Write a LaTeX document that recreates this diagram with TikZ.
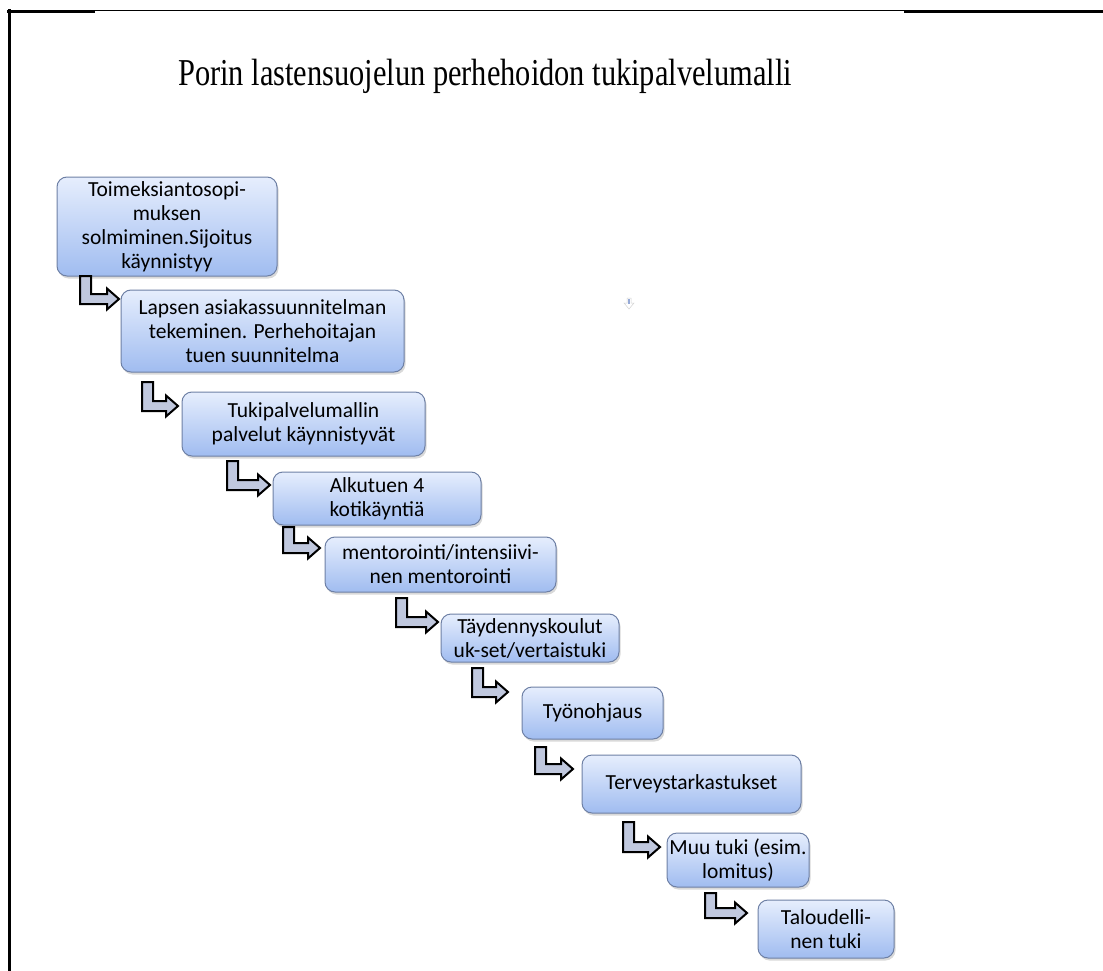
\documentclass[tikz,border=0pt]{standalone}
\usepackage{fontspec}
\setmainfont{Carlito}
\newfontfamily\titlefont{Liberation Serif}
\usetikzlibrary{shadows}
\definecolor{boxtop}{RGB}{230,238,253}
\definecolor{boxbot}{RGB}{160,188,240}
\definecolor{boxborder}{RGB}{110,128,165}
\definecolor{arrfill}{RGB}{192,200,222}
\newcommand\bentarrow[4]{%
  \draw[bentarr] (#1,#2) -- ({#1+11},#2) -- ({#1+11},{#3-5}) -- ({#4-12},{#3-5})
    -- ({#4-12},{#3-10.5}) -- (#4,#3) -- ({#4-12},{#3+10.5}) -- ({#4-12},{#3+5})
    -- (#1,{#3+5}) -- cycle;}
\begin{document}
\begin{tikzpicture}[x=1pt,y=-1pt,
  stepbox/.style={draw=boxborder, line width=1pt, rounded corners=10pt,
    top color=boxtop, bottom color=boxbot,
    drop shadow={opacity=0.3, shadow xshift=1.5pt, shadow yshift=-2.5pt},
    font=\fontsize{21.5}{24}\selectfont, align=center, inner sep=0pt},
  bentarr/.style={draw=black, line width=2pt, fill=arrfill, line join=miter},
  frame/.style={draw=black, line cap=rect}]
\useasboundingbox (0,0) rectangle (1103,971);
% frame
\draw[frame, line width=1pt] (8,11) -- (1103,11);
\draw[frame, line width=3pt] (8,11.5) -- (93,11.5);
\draw[frame, line width=3pt] (905,11.5) -- (1103,11.5);
\draw[frame, line width=3pt] (9.5,11) -- (9.5,971);
% title
\node[font=\titlefont\fontsize{38}{44}\selectfont, inner sep=0pt] (title) at (485,76)
  {\scalebox{0.8}[1]{Porin lastensuojelun perhehoidon tukipalvelumalli}};
% boxes
\node[stepbox, minimum width=220pt, minimum height=99pt] (b1) at (167,226.5)
  {Toimeksiantosopi-\\muksen\\solmiminen.Sijoitus\\käynnistyy};
\node[stepbox, minimum width=283pt, minimum height=82pt] (b2) at (262.5,331)
  {Lapsen asiakassuunnitelman\\tekeminen. Perhehoitajan\\tuen suunnitelma};
\node[stepbox, minimum width=243pt, minimum height=64pt] (b3) at (303.5,424)
  {Tukipalvelumallin\\palvelut käynnistyvät};
\node[stepbox, minimum width=208pt, minimum height=53pt] (b4) at (377,498.5)
  {Alkutuen 4\\kotikäyntiä};
\node[stepbox, minimum width=231pt, minimum height=55pt] (b5) at (440.5,564.5)
  {mentorointi/intensiivi-\\nen mentorointi};
\node[stepbox, minimum width=178pt, minimum height=48pt] (b6) at (530,638)
  {Täydennyskoulut\\uk-set/vertaistuki};
\node[stepbox, minimum width=141pt, minimum height=52pt] (b7) at (592.5,713)
  {Työnohjaus};
\node[stepbox, minimum width=219pt, minimum height=58pt] (b8) at (691.5,784)
  {Terveystarkastukset};
\node[stepbox, minimum width=142pt, minimum height=54pt] (b9) at (738,860)
  {Muu tuki (esim.\\lomitus)};
\node[stepbox, minimum width=136pt, minimum height=58pt] (b10) at (826,929)
  {Taloudelli-\\nen tuki};
% bent arrows
\bentarrow{80}{276}{299}{119}
\bentarrow{142}{382}{406}{178}
\bentarrow{227}{461}{485}{270}
\bentarrow{283}{527}{548}{320}
\bentarrow{396}{598}{622}{438}
\bentarrow{472}{668}{692}{508}
\bentarrow{535}{747}{769}{573}
\bentarrow{623}{822}{847}{660}
\bentarrow{705}{893}{913}{747}
% small stray arrow mark
\draw[draw=gray!35, fill=white, line width=0.5pt] (627,298) -- (631,298) -- (631,303) -- (634,303)
  -- (629,309) -- (624,303) -- (627,303) -- cycle;
\draw[draw={rgb,255:red,150;green,170;blue,215}, line width=1.2pt] (629,299) -- (629,304);
\end{tikzpicture}
\end{document}
